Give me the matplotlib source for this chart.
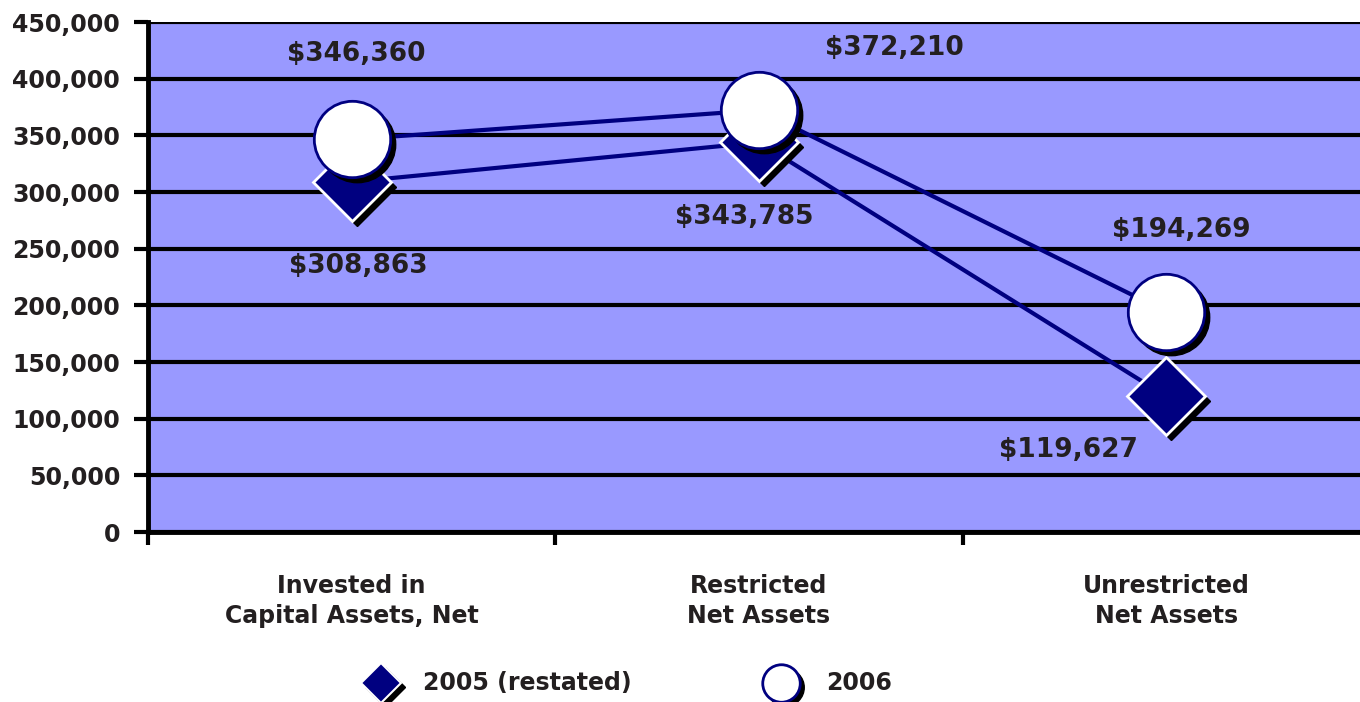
import matplotlib
matplotlib.use("Agg")
from matplotlib import pyplot as plt
from matplotlib import transforms
from matplotlib.lines import Line2D
from matplotlib.ticker import FuncFormatter

categorias = ["Invested in\nCapital Assets, Net", "Restricted\nNet Assets", "Unrestricted\nNet Assets"]
valores_2005 = [308863, 343785, 119627]
valores_2006 = [346360, 372210, 194269]
series = ["2005 (restated)", "2006"]

azul = "#000080"
fondo = "#9999FF"
texto = "#231f20"

plt.rcParams['font.family'] = ['DejaVu Sans']
plt.rcParams['font.weight'] = 'bold'

fig = plt.figure(figsize=(13.6, 7.02), dpi=100)
ax = fig.add_axes([148/1360, 170/702, 1222/1360, 510/702])
ax.set_facecolor(fondo)

x = list(range(len(categorias)))

# lineas
ax.plot(x, valores_2005, color=azul, lw=3, zorder=3)
ax.plot(x, valores_2006, color=azul, lw=3, zorder=3)

# sombras negras desplazadas
sombra = transforms.offset_copy(ax.transData, fig=fig, x=5, y=-5, units='dots')
ax.plot(x, valores_2005, ls='none', marker='D', ms=40, mfc='black', mec='black',
        transform=sombra, zorder=4)
ax.plot(x, valores_2005, ls='none', marker='D', ms=40, mfc=azul, mec='white',
        mew=2, zorder=5)
ax.plot(x, valores_2006, ls='none', marker='o', ms=55, mfc='black', mec='black',
        transform=sombra, zorder=6)
ax.plot(x, valores_2006, ls='none', marker='o', ms=55, mfc='white', mec=azul,
        mew=2, zorder=7)

# etiquetas de valores
desp_2005 = [(7, -84), (-15, -75), (-98, -54)]
desp_2006 = [(5, 85), (135, 62), (15, 82)]
for xi, v, d in zip(x, valores_2005, desp_2005):
    ax.annotate("${:,}".format(v), (xi, v), xytext=d, textcoords='offset pixels',
                ha='center', va='center', fontsize=19, fontweight='bold',
                color=texto, zorder=8, annotation_clip=False)
for xi, v, d in zip(x, valores_2006, desp_2006):
    ax.annotate("${:,}".format(v), (xi, v), xytext=d, textcoords='offset pixels',
                ha='center', va='center', fontsize=19, fontweight='bold',
                color=texto, zorder=8, annotation_clip=False)

# ejes
ax.set_ylim(0, 450000)
ax.set_xlim(-0.5, 2.5)
ax.set_yticks(range(0, 450001, 50000))
ax.yaxis.set_major_formatter(FuncFormatter(lambda v, p: "{:,}".format(int(v))))
ax.yaxis.grid(True, color='black', lw=3)
ax.set_axisbelow(True)
ax.tick_params(axis='y', length=10, width=3, pad=10, labelsize=17, labelcolor=texto)

ax.set_xticks(x)
ax.set_xticklabels(categorias, fontsize=17, fontweight='bold', color=texto, linespacing=1.35)
ax.set_xticks([-0.5, 0.5, 1.5], minor=True)
ax.tick_params(axis='x', which='major', length=0, pad=30)
ax.tick_params(axis='x', which='minor', length=9, width=3)

for lado in ['top', 'right']:
    ax.spines[lado].set_visible(False)
ax.spines['left'].set_linewidth(3.5)
ax.spines['bottom'].set_linewidth(3.5)

# leyenda
ftr = fig.transFigure
sombra_fig = transforms.offset_copy(ftr, fig=fig, x=4, y=-4, units='dots')
ley_y = 1 - 683/702
fig.add_artist(Line2D([381/1360], [ley_y], marker='D', ms=20, mfc='black', mec='black',
                      transform=sombra_fig))
fig.add_artist(Line2D([381/1360], [ley_y], marker='D', ms=20, mfc=azul, mec='white',
                      mew=1.5, transform=ftr))
fig.add_artist(Line2D([781/1360], [ley_y], marker='o', ms=27, mfc='black', mec='black',
                      transform=sombra_fig))
fig.add_artist(Line2D([781/1360], [ley_y], marker='o', ms=27, mfc='white', mec=azul,
                      mew=2, transform=ftr))
fig.text(423/1360, ley_y, series[0], fontsize=17, fontweight='bold', color=texto, va='center')
fig.text(826/1360, ley_y, series[1], fontsize=17, fontweight='bold', color=texto, va='center')

fig.savefig("out.png", dpi=100)
